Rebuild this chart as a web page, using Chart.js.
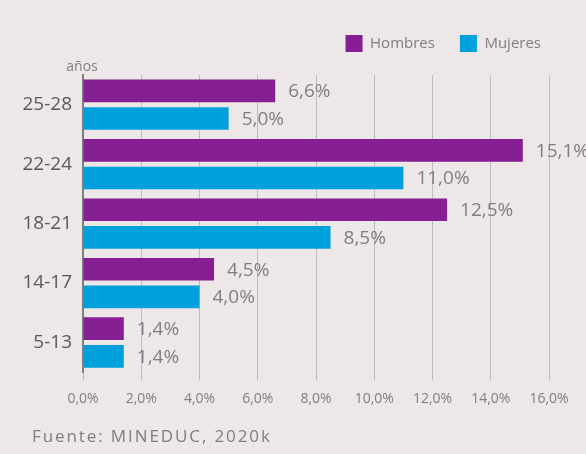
<!DOCTYPE html>
<html>
<head>
<meta charset="utf-8">
<script src="https://cdn.jsdelivr.net/npm/chart.js@4"></script>
<style>
  html, body { margin: 0; padding: 0; background: #ede7e7; }
  #wrap { width: 586px; height: 454px; position: relative; }
</style>
</head>
<body>
<div id="wrap"><canvas id="chart"></canvas></div>
<script>
const ageGroups = ["25-28", "22-24", "18-21", "14-17", "5-13"];
const hombres = [6.6, 15.1, 12.5, 4.5, 1.4];
const mujeres = [5.0, 11.0, 8.5, 4.0, 1.4];
const xTicks = [0, 2, 4, 6, 8, 10, 12, 14, 16];

const PURPLE = "#861e94";
const BLUE = "#00a0dc";
const GREY = "#7f7f7f";

function pct(v) {
  return v.toFixed(1).replace(".", ",") + "%";
}

// push the plot down under the legend, and nudge the legend right
const legendGap = {
  id: "legendGap",
  beforeInit(chart) {
    const fit = chart.legend.fit;
    chart.legend.fit = function() {
      fit.bind(chart.legend)();
      this.height += 13;
    };
  },
  afterLayout(chart) {
    chart.legend.left += 17;
    chart.legend.right += 17;
  }
};

// value labels after each bar + the small texts ("años", source line)
const extras = {
  id: "extras",
  afterDatasetsDraw(chart) {
    const ctx = chart.ctx;
    ctx.save();
    ctx.font = "19px 'Open Sans'";
    ctx.fillStyle = GREY;
    ctx.textBaseline = "middle";
    ctx.textAlign = "left";
    chart.data.datasets.forEach(function(ds, i) {
      chart.getDatasetMeta(i).data.forEach(function(bar, j) {
        ctx.fillText(pct(ds.data[j]), bar.x + 13, bar.y + 1);
      });
    });
    ctx.font = "14px 'Open Sans'";
    ctx.textAlign = "center";
    ctx.fillText("años", 82, 67);
    ctx.font = "17px 'Open Sans'";
    ctx.letterSpacing = "1.9px";
    ctx.textAlign = "left";
    ctx.fillText("Fuente: MINEDUC, 2020k", 32, 437);
    ctx.restore();
  }
};

new Chart(document.getElementById("chart"), {
  type: "bar",
  data: {
    labels: ageGroups,
    datasets: [
      { label: "Hombres", data: hombres, backgroundColor: PURPLE },
      { label: "Mujeres", data: mujeres, backgroundColor: BLUE }
    ]
  },
  options: {
    indexAxis: "y",
    responsive: true,
    maintainAspectRatio: false,
    animation: false,
    categoryPercentage: 0.93,
    barPercentage: 0.82,
    layout: { padding: { top: 10, right: 37, bottom: 37, left: 18 } },
    plugins: {
      legend: {
        position: "top",
        align: "end",
        labels: {
          boxWidth: 17,
          boxHeight: 17,
          padding: 25,
          color: GREY,
          font: { family: "'Open Sans'", size: 15 }
        }
      },
      tooltip: { enabled: false }
    },
    scales: {
      x: {
        min: 0,
        max: 16,
        afterBuildTicks(axis) {
          axis.ticks = xTicks.map(function(v) { return { value: v }; });
        },
        ticks: {
          color: GREY,
          font: { family: "'Liberation Sans Narrow', 'Open Sans'", size: 14 },
          padding: 10,
          callback: function(v) { return pct(v); }
        },
        grid: { color: "#bdbdbd", tickLength: 8, tickColor: "#bdbdbd" },
        border: { display: false }
      },
      y: {
        afterFit(axis) { axis.width = 65; },
        ticks: {
          color: "#595959",
          font: { family: "'Open Sans'", size: 19 },
          padding: 3
        },
        grid: { display: false },
        border: { display: true, color: "#7f7f7f", width: 2 }
      }
    }
  },
  plugins: [legendGap, extras]
});
</script>
</body>
</html>
